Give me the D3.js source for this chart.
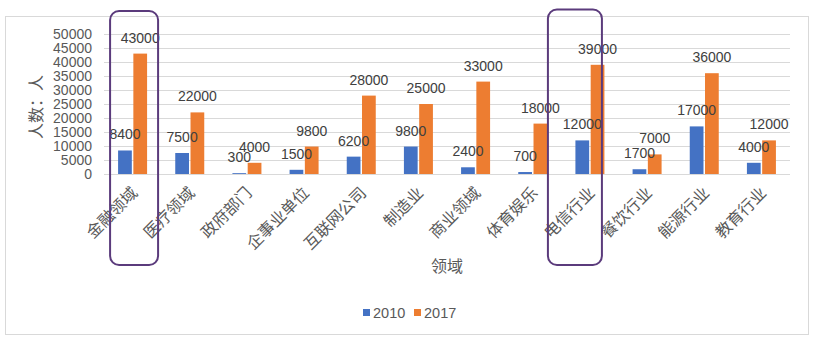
<!DOCTYPE html>
<html><head><meta charset="utf-8">
<script src="https://cdn.jsdelivr.net/npm/d3@7"></script>
<style>body{margin:0;background:#fff}svg{display:block}</style>
</head><body>
<script>
const categories = ["金融领域","医疗领域","政府部门","企事业单位","互联网公司","制造业","商业领域","体育娱乐","电信行业","餐饮行业","能源行业","教育行业"];
const series2010 = [8400,7500,300,1500,6200,9800,2400,700,12000,1700,17000,4000];
const series2017 = [43000,22000,4000,9800,28000,25000,33000,18000,39000,7000,36000,12000];
const seriesNames = ["2010","2017"];
const yTicks = [0,5000,10000,15000,20000,25000,30000,35000,40000,45000,50000];
const highlighted = ["金融领域","电信行业"];

const W = 816, H = 343;
const colors = ["#4472C4","#ED7D31"];
const numFont = "'Liberation Sans', 'DejaVu Sans', sans-serif";
const cjkFont = "'Noto Sans CJK SC', sans-serif";

const svg = d3.select("body").append("svg").attr("width", W).attr("height", H);
svg.append("rect").attr("x",0).attr("y",0).attr("width",W).attr("height",H).attr("fill","#fff");
svg.append("rect").attr("x",5.5).attr("y",16.5).attr("width",803).attr("height",318)
  .attr("fill","none").attr("stroke","#d9d9d9").attr("stroke-width",1);

const x = d3.scaleBand().domain(categories).range([104,790]).padding(0);
const y = d3.scaleLinear().domain([0,50000]).range([174,34]);
const x1 = d3.scaleBand().domain(seriesNames).range([-14.5,14.5]).paddingInner(0.1);

// gridlines
svg.append("g").selectAll("line").data(yTicks).join("line")
  .attr("x1",104).attr("x2",790)
  .attr("y1",d=>Math.round(y(d))+0.5).attr("y2",d=>Math.round(y(d))+0.5)
  .attr("stroke","#d9d9d9").attr("stroke-width",1);

// y axis labels
const yAxis = d3.axisLeft(y).tickValues(yTicks).tickSize(0).tickPadding(0).tickFormat(d3.format("d"));
const ya = svg.append("g").attr("transform","translate(92,0)").call(yAxis);
ya.select(".domain").remove();
ya.selectAll("text").attr("font-family",numFont).attr("font-size",14).attr("fill","#595959");

// bars
const data = categories.map((c,i)=>({c, vals:[{k:"2010",v:series2010[i]},{k:"2017",v:series2017[i]}]}));
const groups = svg.append("g").selectAll("g").data(data).join("g")
  .attr("transform",d=>`translate(${x(d.c)+x.bandwidth()/2},0)`);
groups.selectAll("rect").data(d=>d.vals).join("rect")
  .attr("x",d=>x1(d.k)).attr("width",x1.bandwidth())
  .attr("y",d=>y(d.v)).attr("height",d=>y(0)-y(d.v))
  .attr("fill",(d,i)=>colors[i]);
groups.selectAll("text").data(d=>d.vals).join("text")
  .attr("x",d=>x1(d.k)+x1.bandwidth()/2).attr("y",d=>y(d.v)-11)
  .attr("text-anchor","middle").attr("font-family",numFont).attr("font-size",14)
  .attr("fill","#404040").text(d=>d.v);

// x labels
const xAxis = d3.axisBottom(x).tickSize(0).tickPadding(0);
const xa = svg.append("g").attr("transform","translate(0,174)").call(xAxis);
xa.select(".domain").remove();
xa.selectAll("text")
  .attr("font-family",cjkFont).attr("font-size",16).attr("fill","#595959")
  .attr("text-anchor","end").attr("dy",0)
  .attr("transform","translate(6,20) rotate(-45)");

// axis titles
svg.append("text").attr("transform","translate(42,107) rotate(-90)")
  .attr("text-anchor","middle").attr("font-family",cjkFont).attr("font-size",16)
  .attr("fill","#595959").text("人数：人");
svg.append("text").attr("x",447).attr("y",272).attr("text-anchor","middle")
  .attr("font-family",cjkFont).attr("font-size",16).attr("fill","#595959").text("领域");

// legend
const leg = svg.append("g").selectAll("g").data(seriesNames).join("g")
  .attr("transform",(d,i)=>`translate(${363+i*51},0)`);
leg.append("rect").attr("x",0).attr("y",309).attr("width",7).attr("height",7).attr("fill",(d,i)=>colors[i]);
leg.append("text").attr("x",10).attr("y",317.5).attr("font-family",numFont).attr("font-size",14.5)
  .attr("fill","#595959").text(d=>d);

// highlight boxes
const hlOffsets = [{dx:-22.5, w:48},{dx:-42, w:54}];
svg.append("g").selectAll("rect").data(highlighted).join("rect")
  .attr("x",(d,i)=>x(d)+x.bandwidth()/2+hlOffsets[i].dx)
  .attr("y",(d,i)=>i===0?11:9.5)
  .attr("width",(d,i)=>hlOffsets[i].w)
  .attr("height",(d,i)=>i===0?254:255.5)
  .attr("rx",9).attr("ry",9)
  .attr("fill","none").attr("stroke","#5b3b7c").attr("stroke-width",2);
</script>
</body></html>
